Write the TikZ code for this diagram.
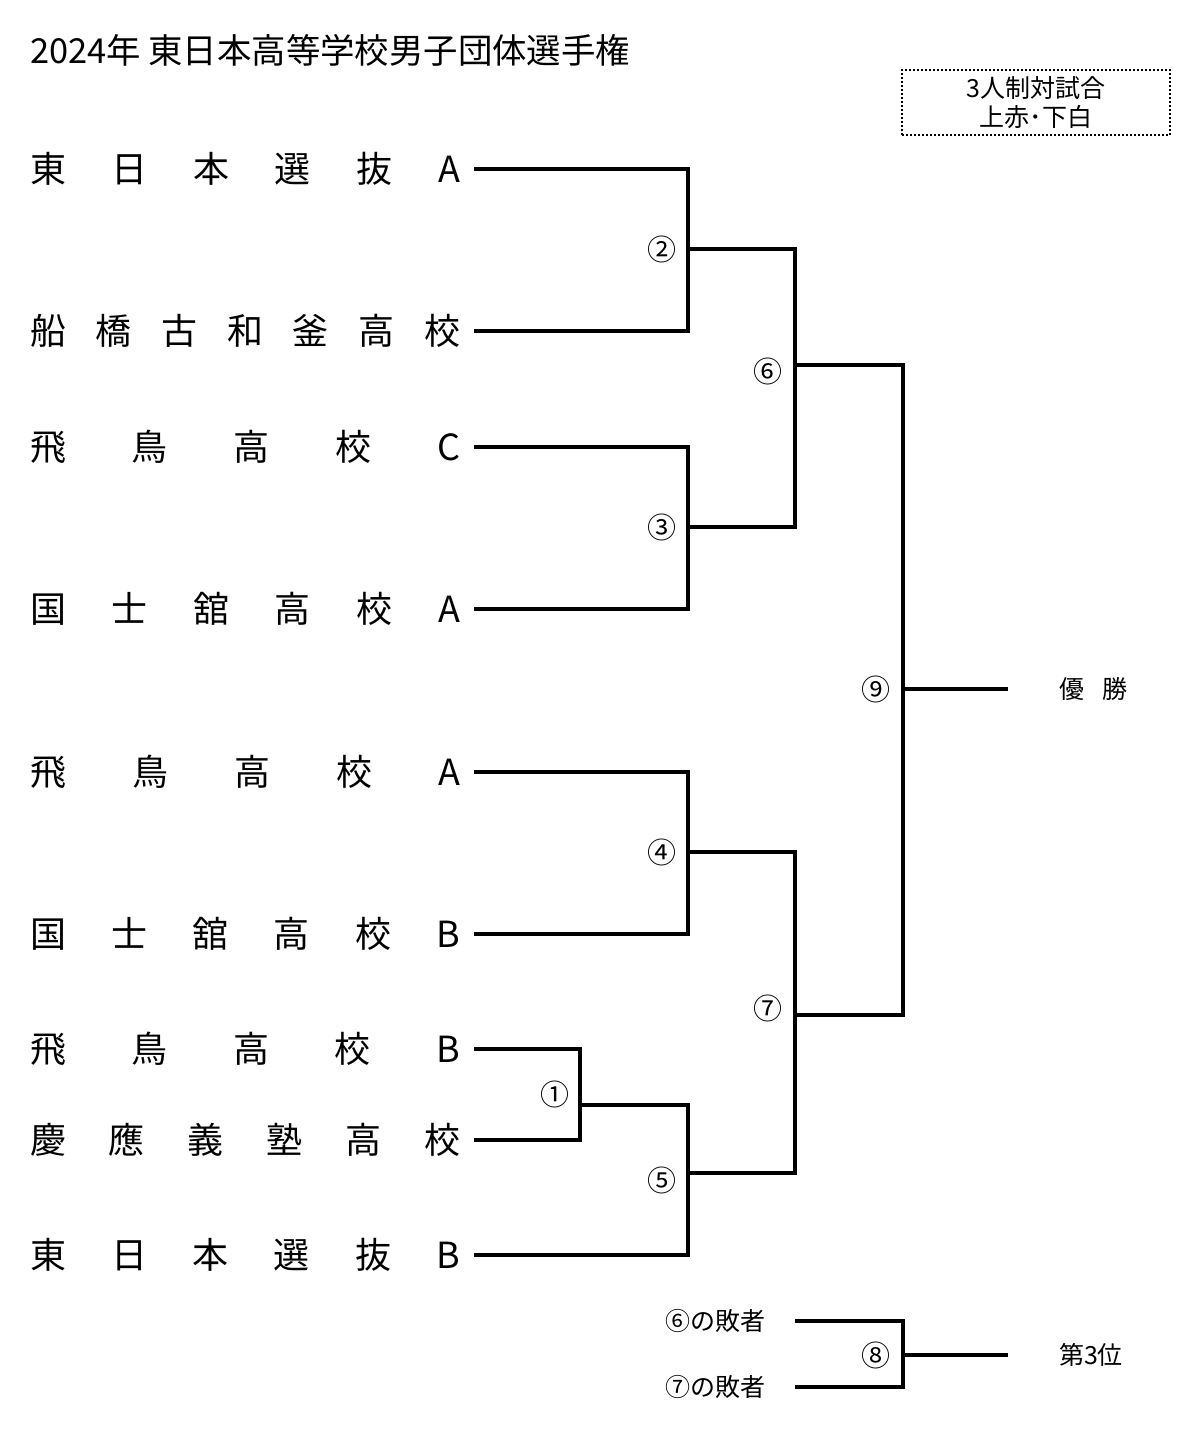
\documentclass[tikz,border=0pt]{standalone}
\usepackage{fontspec}
\setmainfont{Noto Sans CJK JP}
\usetikzlibrary{positioning}

% ruled name box: characters spread over one fixed width
\newcommand{\spreadname}[1]{\makebox[215pt][s]{#1}}

\begin{document}
\begin{tikzpicture}[x=0.5pt,y=-0.5pt,line width=2.1pt,line join=miter,
    team/.style={anchor=west,inner sep=0pt,font=\fontsize{18}{18}\selectfont},
    num/.style={inner sep=0pt,font=\fontsize{14.5}{14.5}\selectfont},
    small/.style={inner sep=0pt,font=\fontsize{12.5}{12.5}\selectfont}]
    \useasboundingbox (0,0) rectangle (1200,1433);

    % Titel
    \node[anchor=west,inner sep=0pt,font=\fontsize{17.2}{17.2}\selectfont] (title) at (28,50) {2024年 東日本高等学校男子団体選手権};

    % Regelkasten (gepunktet)
    \node[draw,line width=1pt,dash pattern=on 1pt off 1pt,minimum width=134pt,minimum height=32.5pt,
          align=center,inner sep=0pt,font=\fontsize{12.5}{14.5}\selectfont] (rule) at (1036,102.5)
          {3人制対試合\\上赤･下白};

    % Mannschaften
    \node[team] (t1) at (28,169)  {\spreadname{東 日 本 選 抜 A}};
    \node[team] (t2) at (28,331)  {\spreadname{船 橋 古 和 釜 高 校}};
    \node[team] (t3) at (28,447)  {\spreadname{飛 鳥 高 校 C}};
    \node[team] (t4) at (28,609)  {\spreadname{国 士 舘 高 校 A}};
    \node[team] (t5) at (28,772)  {\spreadname{飛 鳥 高 校 A}};
    \node[team] (t6) at (28,934)  {\spreadname{国 士 舘 高 校 B}};
    \node[team] (t7) at (28,1049) {\spreadname{飛 鳥 高 校 B}};
    \node[team] (t8) at (28,1140) {\spreadname{慶 應 義 塾 高 校}};
    \node[team] (t9) at (28,1255) {\spreadname{東 日 本 選 抜 B}};

    % Linienanfang
    \foreach \i/\y in {1/169,2/331,3/447,4/609,5/772,6/934,7/1049,8/1140,9/1255}
        \coordinate (s\i) at (474,\y);

    % Knoten der Spiele
    \coordinate (m1) at (580,1105);
    \coordinate (m2) at (688,249);
    \coordinate (m3) at (688,527);
    \coordinate (m4) at (688,852);
    \coordinate (m5) at (688,1173);
    \coordinate (m6) at (795,365);
    \coordinate (m7) at (795,1015);
    \coordinate (m9) at (903,689);
    \coordinate (win) at (1008,689);

    % Linien
    \draw (s1) -| (m2) |- (s2);
    \draw (s3) -| (m3) |- (s4);
    \draw (s5) -| (m4) |- (s6);
    \draw (s7) -| (m1) |- (s8);
    \draw (m1) -| (m5) |- (s9);
    \draw (m2) -| (m6) |- (m3);
    \draw (m4) -| (m7) |- (m5);
    \draw (m6) -| (m9) |- (m7);
    \draw (m9) -- (win);

    % Spielnummern
    \node[num] (n1) at (555,1094) {①};
    \node[num] (n2) at (662,249)  {②};
    \node[num] (n3) at (662,527)  {③};
    \node[num] (n4) at (662,852)  {④};
    \node[num] (n5) at (662,1180) {⑤};
    \node[num] (n6) at (768,371)  {⑥};
    \node[num] (n7) at (768,1008) {⑦};
    \node[num] (n9) at (876,689)  {⑨};

    \node[small,anchor=west] (champ) at (1057,689) {\makebox[34pt][s]{優 勝}};

    % Spiel um Platz 3
    \node[small,anchor=east] (l6) at (768,1321) {⑥の敗者};
    \node[small,anchor=east] (l7) at (768,1387) {⑦の敗者};
    \coordinate (a6) at (795,1321);
    \coordinate (a7) at (795,1387);
    \coordinate (m8) at (903,1355);
    \coordinate (third) at (1008,1355);
    \draw (a6) -| (m8) |- (a7);
    \draw (m8) -- (third);
    \node[num] (n8) at (876,1355) {⑧};
    \node[small,anchor=west] (bronze) at (1057,1355) {第3位};
\end{tikzpicture}
\end{document}
